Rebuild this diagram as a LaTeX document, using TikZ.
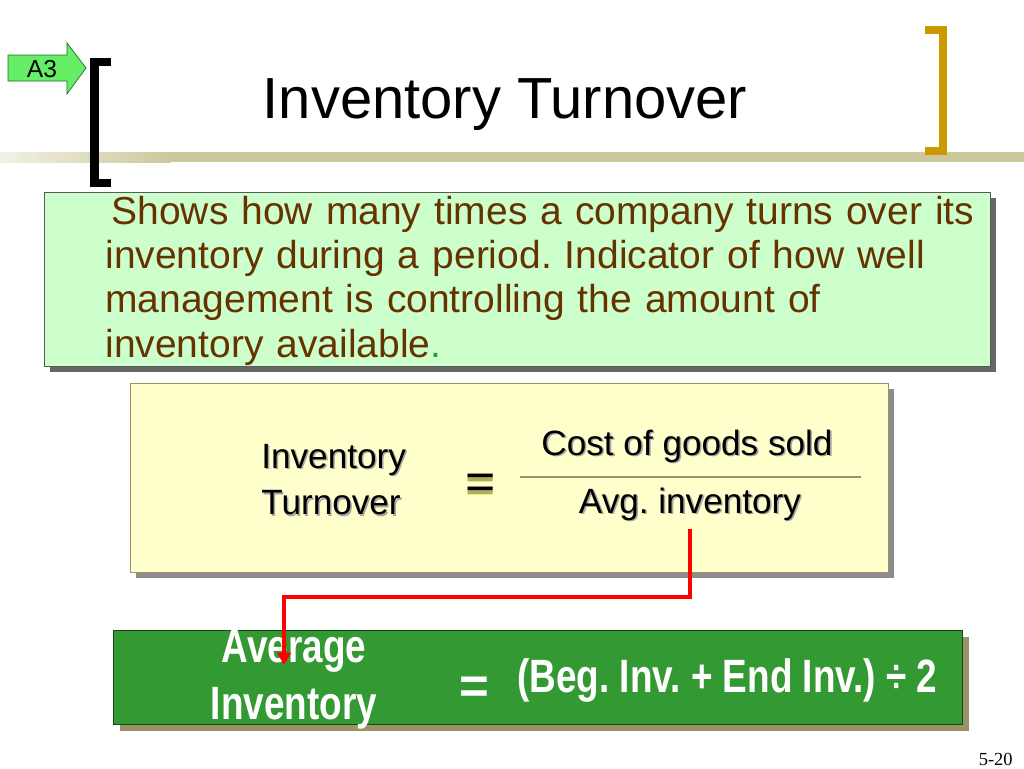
\documentclass[tikz,border=0pt]{standalone}
\usepackage{fontspec}
\setmainfont{Liberation Sans}
\newfontfamily\condfont[FakeStretch=0.79]{Liberation Sans}
\newfontfamily\pagefont{Liberation Serif}
\usepackage{tikz}
\usetikzlibrary{arrows.meta, shadows, fit}

\definecolor{barcol}{RGB}{204,200,155}
\definecolor{gold}{RGB}{204,153,0}
\definecolor{mint}{RGB}{204,255,204}
\definecolor{cream}{RGB}{255,255,204}
\definecolor{leaf}{RGB}{51,153,51}
\definecolor{rust}{RGB}{102,51,0}
\definecolor{olive}{RGB}{153,148,102}
\definecolor{eqshade}{RGB}{176,176,80}
\definecolor{tagfill}{RGB}{102,238,102}

% text with a soft grey copy just behind it
\newcommand{\shadowtext}[2][black!35]{\makebox[0pt][l]{\hspace{0.9pt}\raisebox{-0.9pt}{\textcolor{#1}{#2}}}#2}

\begin{document}
\frenchspacing
\begin{tikzpicture}[x=0.02cm, y=-0.02cm]
    \useasboundingbox[fill=white] (0,0) rectangle (1024,768);

    % title rule and brackets
    \fill[left color=barcol!25, right color=barcol] (0,152) rectangle (170,162);
    \fill[barcol] (170,152) rectangle (1024,162);
    \draw[line width=5pt] (111,62) -- (94.5,62) -- (94.5,183) -- (111,183);
    \draw[gold, line width=4.5pt] (925,30) -- (943,30) -- (943,151) -- (925,151);
    \fill[tagfill, draw=leaf!70!black, thin] (8,55) -- (67,55) -- (67,43) -- (86,68)
        -- (67,94) -- (67,81) -- (8,81) -- cycle;

    \begin{scope}[every node/.style={inner sep=0pt}]
        \node[font=\fontsize{14}{16}\selectfont, anchor=base] (tag) at (42,77) {A3};
        \node[font=\fontsize{33}{38}\selectfont, anchor=base] (title) at (505,118) {Inventory Turnover};

        % boxes
        \node[fit={(44,192) (990,366)}, fill=mint, draw=black!65,
              drop shadow={shadow xshift=3.5pt, shadow yshift=-3.5pt, fill=black!60, opacity=1}] (defbox) {};
        \node[fit={(130,383) (888,572)}, fill=cream, draw=olive,
              drop shadow={shadow xshift=3.5pt, shadow yshift=-3.5pt, fill=black!45, opacity=1}] (ratiobox) {};
        \node[fit={(113,630) (962,724)}, fill=leaf, draw=leaf!45!black,
              drop shadow={shadow xshift=4pt, shadow yshift=-4pt, fill=olive, opacity=1}] (avgbox) {};

        % definition
        \node[font=\fontsize{22.2}{25.3}\selectfont, text=rust, text width=540pt, align=left,
              anchor=base west] (def) at (105,224)
            {\hspace*{3.5pt}Shows how many times a company turns over its\\
             inventory during a period. Indicator of how well\\
             management is controlling the amount of\\
             inventory available\textcolor{leaf}{.}};

        % ratio
        \node[font=\fontsize{20}{26.6}\selectfont, text width=100pt, align=left, anchor=base west]
            (ratio) at (261,468) {\shadowtext{Inventory}\\\shadowtext{Turnover}};
        \node[font=\fontsize{29.5}{34}\selectfont, anchor=base] (eqa) at (481,499)
            {\makebox[0pt][l]{\raisebox{-2.8pt}{\textcolor{eqshade}{=}}}=};
        \node[font=\fontsize{20}{24}\selectfont, anchor=base] (cogs) at (687,455) {\shadowtext{Cost of goods sold}};
        \node[font=\fontsize{20}{24}\selectfont, anchor=base, inner ysep=4pt] (avg) at (690,513) {\shadowtext{Avg. inventory}};

        % average inventory
        \node[font=\condfont\bfseries\fontsize{26.6}{33}\selectfont, text=white, text width=200pt,
              align=center, anchor=base] (avginv) at (294,662) {Average\\Inventory};
        \node[font=\bfseries\fontsize{29}{34}\selectfont, text=white, anchor=base] (eqb) at (474,703) {=};
        \node[font=\condfont\bfseries\fontsize{26.6}{33}\selectfont, text=white, anchor=base west]
            (formula) at (517,692) {(Beg. Inv. + End Inv.) ÷ 2};

        \node[font=\pagefont\fontsize{10.5}{12}\selectfont, anchor=base east] (page) at (1013,765) {5-20};
    \end{scope}

    \draw[olive, line width=1pt] (520,477) -- (861,477);

    \coordinate (bend) at (284,597);
    \coordinate (tip) at (284,665);
    \begin{scope}[>={Triangle[length=7pt, width=7.5pt]}]
        \draw[->, red, line width=2.3pt] (avg.south) |- (bend) -- (tip);
    \end{scope}
\end{tikzpicture}
\end{document}
